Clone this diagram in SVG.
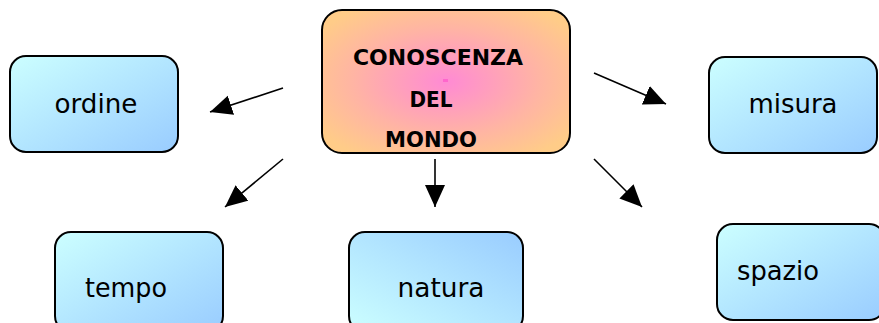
<svg xmlns="http://www.w3.org/2000/svg" width="879" height="323" viewBox="0 0 879 323">
<defs>
<radialGradient id="gc" cx="50%" cy="50%" r="62%">
<stop offset="0" stop-color="#ff8ad4"/>
<stop offset="0.6" stop-color="#ffb4a4"/>
<stop offset="1" stop-color="#ffcc88"/>
</radialGradient>
<linearGradient id="gb" x1="0" y1="0" x2="1" y2="1">
<stop offset="0" stop-color="#ccffff"/>
<stop offset="1" stop-color="#99ccff"/>
</linearGradient>
<linearGradient id="gb2" x1="0" y1="1" x2="1" y2="0">
<stop offset="0" stop-color="#ccffff"/>
<stop offset="1" stop-color="#99ccff"/>
</linearGradient>
<marker id="ah" markerUnits="userSpaceOnUse" markerWidth="24" markerHeight="22" refX="22" refY="10" orient="auto">
<path d="M0,0 L22,10 L0,20 Z" fill="#000"/>
</marker>
<style>
.box{stroke:#000;stroke-width:2}
.lbl{font-family:"DejaVu Sans","Liberation Sans",sans-serif;font-size:27px;fill:#000}
.ttl{font-family:"DejaVu Sans","Liberation Sans",sans-serif;font-size:22px;font-weight:bold;fill:#000}
.con{stroke:#000;stroke-width:1.6;fill:none;marker-end:url(#ah)}
</style>
</defs>
<g id="connectors">
<line class="con" x1="283" y1="88" x2="210" y2="112"/>
<line class="con" x1="283" y1="159" x2="225" y2="207"/>
<line class="con" x1="435" y1="159" x2="435" y2="207"/>
<line class="con" x1="594" y1="73" x2="666" y2="104"/>
<line class="con" x1="594" y1="159" x2="642" y2="207"/>
</g>
<g id="center">
<rect class="box" x="322" y="10" width="248" height="143" rx="20" fill="url(#gc)"/>
<rect x="443" y="79" width="5" height="3" fill="#ff66cc"/>
<text class="ttl" x="438" y="65" text-anchor="middle" textLength="170" lengthAdjust="spacingAndGlyphs">CONOSCENZA</text>
<text class="ttl" x="431" y="107" text-anchor="middle" textLength="43" lengthAdjust="spacingAndGlyphs">DEL</text>
<text class="ttl" x="431" y="147" text-anchor="middle" textLength="92" lengthAdjust="spacingAndGlyphs">MONDO</text>
</g>
<g id="ordine">
<rect class="box" x="10" y="56" width="168" height="96" rx="16" fill="url(#gb)"/>
<text class="lbl" x="96" y="113" text-anchor="middle" textLength="83" lengthAdjust="spacingAndGlyphs">ordine</text>
</g>
<g id="misura">
<rect class="box" x="709" y="57" width="168" height="96" rx="16" fill="url(#gb)"/>
<text class="lbl" x="793" y="113" text-anchor="middle" textLength="89" lengthAdjust="spacingAndGlyphs">misura</text>
</g>
<g id="tempo">
<rect class="box" x="55" y="232" width="168" height="100" rx="16" fill="url(#gb)"/>
<text class="lbl" x="126" y="297" text-anchor="middle" textLength="82" lengthAdjust="spacingAndGlyphs">tempo</text>
</g>
<g id="natura">
<rect class="box" x="349" y="232" width="174" height="100" rx="16" fill="url(#gb2)"/>
<text class="lbl" x="441" y="297" text-anchor="middle" textLength="87" lengthAdjust="spacingAndGlyphs">natura</text>
</g>
<g id="spazio">
<rect class="box" x="717" y="224" width="168" height="96" rx="16" fill="url(#gb)"/>
<text class="lbl" x="778" y="280" text-anchor="middle" textLength="82" lengthAdjust="spacingAndGlyphs">spazio</text>
</g>
</svg>
